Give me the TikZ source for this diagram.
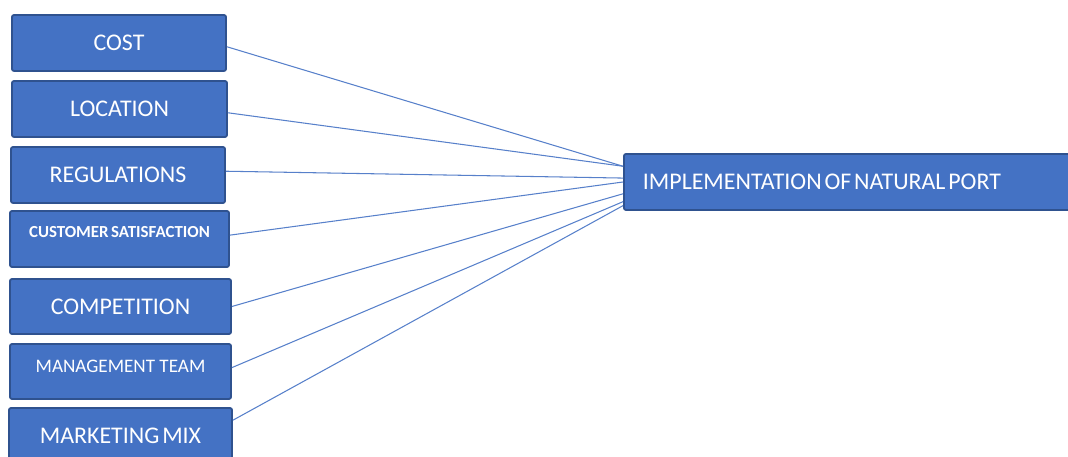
\documentclass[tikz,border=0pt]{standalone}
\usepackage{fontspec}
\setmainfont{Carlito}
\definecolor{boxblue}{HTML}{4472C4}
\definecolor{boxedge}{HTML}{2F528F}
\newcommand\tightwords[1]{\spaceskip=#1em\relax}

\begin{document}
\begin{tikzpicture}[x=0.025cm, y=-0.025cm, font=\fontsize{17}{20}\selectfont]
	\tikzset{factor/.style={draw=boxedge, line width=1.3pt, fill=boxblue, text=white, rounded corners=1.5pt, minimum height=1.4cm, inner sep=2pt},
		tight/.style={font=\fontsize{17}{20}\selectfont\tightwords{0.12}},
		link/.style={draw=boxblue!90!white, line width=0.75pt}}
	\useasboundingbox (0,0) rectangle (1068,457);
	\node[factor, minimum width=5.35cm] (cost) at (119,43) {COST};
	\node[factor, minimum width=5.375cm] (location) at (119.5,109) {LOCATION};
	\node[factor, minimum width=5.35cm] (regulations) at (118,175) {REGULATIONS};
	\node[factor, minimum width=5.475cm, font=\bfseries\fontsize{12}{14}\selectfont\tightwords{0.15}, text depth=10.5pt] (custsat) at (119.5,239) {CUSTOMER SATISFACTION};
	\node[factor, minimum width=5.525cm, minimum height=1.375cm] (competition) at (120.5,306.5) {COMPETITION};
	\node[factor, minimum width=5.525cm, minimum height=1.375cm, font=\fontsize{13.6}{16}\selectfont, text depth=8pt] (mgmt) at (120.5,371.5) {MANAGEMENT TEAM};
	\node[factor, tight, minimum width=5.575cm] (mktg) at (120.5,436) {MARKETING MIX};
	\node[factor, text width=10.25cm, inner xsep=0.475cm, align=left] (impl) at (848,182) {\tightwords{0.12}IMPLEMENTATION OF NATURAL PORT};
	% factors to the port
	\foreach \src/\a/\b in {cost/-2.7/176.4, location/-2.1/176.7, regulations/2.7/179.5, custsat/2.1/180.3, competition/0/183.1, mgmt/2.85/185.6, mktg/8.7/186.4}
		\draw[link] (\src.\a) -- (impl.\b);
\end{tikzpicture}
\end{document}
